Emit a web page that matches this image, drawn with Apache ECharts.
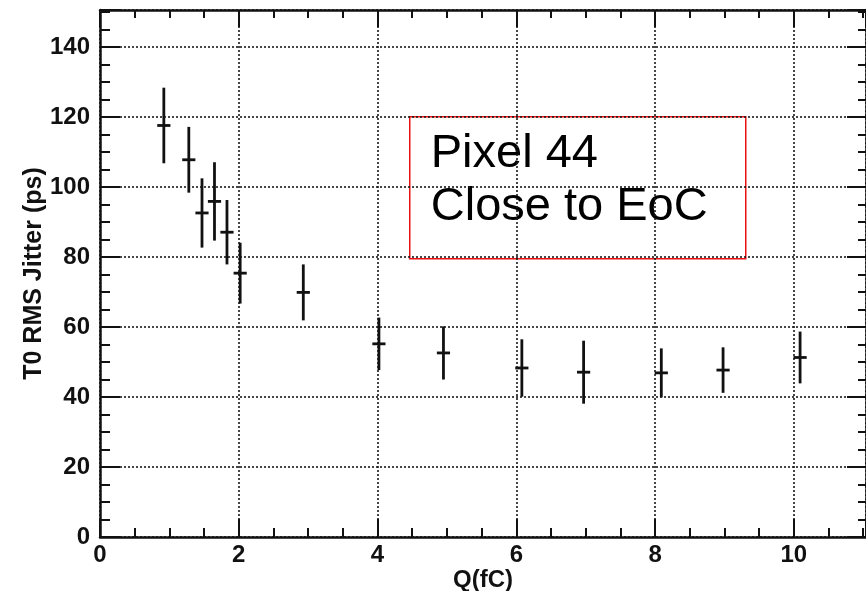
<!DOCTYPE html>
<html>
<head>
<meta charset="utf-8">
<script src="https://cdn.jsdelivr.net/npm/echarts@6/dist/echarts.min.js"></script>
<style>
  html, body { margin: 0; padding: 0; background: #fff; }
  #chart { width: 866px; height: 591px; }
</style>
</head>
<body>
<div id="chart"></div>
<script>
  // 数据
  const qValues = [0.92, 1.28, 1.47, 1.65, 1.83, 2.02, 2.93, 4.02, 4.95, 6.08, 6.97, 8.09, 8.98, 10.09]
  const jitter = [117.6, 107.8, 92.6, 95.9, 87.1, 75.4, 69.9, 55.2, 52.6, 48.3, 47.1, 46.9, 47.7, 51.3]
  const jitterErr = [10.8, 9.4, 9.9, 11.2, 9.2, 8.7, 8.0, 7.5, 7.6, 8.2, 9.0, 7.0, 6.5, 7.4]
  const qErr = 0.095
  const xTitle = 'Q(fC)'
  const yTitle = 'T0 RMS Jitter (ps)'
  const noteLines = ['Pixel 44', 'Close to EoC']

  const FONT = "'Liberation Sans', Arial, Helvetica, sans-serif"
  const INK = '#111'
  const X_MAX = 11.04
  const Y_MAX = 150.6

  const chart = echarts.init(document.getElementById('chart'))

  const points = qValues.map((q, i) => [q, jitter[i], jitterErr[i]])

  const labelFmt = step => v => (Math.abs(v / step - Math.round(v / step)) < 1e-6 ? String(Math.round(v)) : '')

  // 坐标轴工厂: major / minor ticks on each side, ROOT style (inside)
  const xAx = (pos, interval, len, extra) => Object.assign({
    type: 'value', position: pos, min: 0, max: X_MAX, interval: interval,
    axisLine: { show: false, onZero: false },
    axisTick: { show: true, inside: true, length: len, lineStyle: { color: INK, width: 2 } },
    axisLabel: { show: false },
    splitLine: { show: false }
  }, extra || {})

  const yAx = (pos, interval, len, extra) => Object.assign({
    type: 'value', position: pos, min: 0, max: Y_MAX, interval: interval,
    axisLine: { show: false, onZero: false },
    axisTick: { show: true, inside: true, length: len, lineStyle: { color: INK, width: 2 } },
    axisLabel: { show: false },
    splitLine: { show: false }
  }, extra || {})

  const gridLine = { show: true, lineStyle: { color: '#1a1a1a', width: 1.6, type: [2, 2] } }
  const frameLine = { show: true, onZero: false, lineStyle: { color: INK, width: 2.5 } }

  const option = {
    backgroundColor: '#fff',
    animation: false,
    grid: { left: 100, right: 0, top: 10, bottom: 54, containLabel: false, outerBoundsMode: 'none' },
    xAxis: [
      xAx('bottom', 2, 18, {
        axisLine: frameLine,
        splitLine: gridLine,
        axisLabel: {
          show: true, margin: 6, formatter: labelFmt(2),
          fontFamily: FONT, fontSize: 24, fontWeight: 'bold', color: INK
        },
        name: xTitle, nameLocation: 'middle', nameGap: 31, nameMoveOverlap: false,
        nameTextStyle: { fontFamily: FONT, fontSize: 24, fontWeight: 'bold', color: INK }
      }),
      xAx('bottom', 0.5, 9),
      xAx('top', 2, 17, { axisLine: frameLine }),
      xAx('top', 0.5, 8)
    ],
    yAxis: [
      yAx('left', 20, 20, {
        axisLine: frameLine,
        splitLine: gridLine,
        axisLabel: {
          show: true, margin: 10, formatter: labelFmt(20),
          fontFamily: FONT, fontSize: 24, fontWeight: 'bold', color: INK
        },
        name: yTitle, nameLocation: 'middle', nameGap: 53, nameRotate: 90, nameMoveOverlap: false,
        nameTextStyle: { fontFamily: FONT, fontSize: 25, fontWeight: 'bold', color: INK }
      }),
      yAx('left', 5, 10),
      yAx('right', 20, 19, { axisLine: frameLine }),
      yAx('right', 5, 8)
    ],
    series: [
      {
        type: 'custom',
        xAxisIndex: 0,
        yAxisIndex: 0,
        data: points,
        encode: { x: 0, y: 1 },
        renderItem: (params, api) => {
          const x = api.value(0)
          const y = api.value(1)
          const e = api.value(2)
          const top = api.coord([x, y + e])
          const bot = api.coord([x, y - e])
          const l = api.coord([x - qErr, y])
          const r = api.coord([x + qErr, y])
          const style = { stroke: INK, lineWidth: 2.8 }
          return {
            type: 'group',
            children: [
              { type: 'line', shape: { x1: top[0], y1: top[1], x2: bot[0], y2: bot[1] }, style: style },
              { type: 'line', shape: { x1: l[0], y1: l[1], x2: r[0], y2: r[1] }, style: style }
            ]
          }
        }
      }
    ],
    graphic: [
      {
        type: 'group',
        left: 409,
        top: 116,
        children: [
          {
            type: 'rect',
            shape: { x: 0, y: 0, width: 336, height: 142 },
            style: { fill: '#fff', stroke: '#ee1111', lineWidth: 1.5 }
          },
          {
            type: 'text',
            x: 21,
            y: 11,
            style: {
              text: noteLines.join('\n'),
              fontFamily: FONT, fontSize: 47, lineHeight: 53,
              fill: '#000', align: 'left', verticalAlign: 'top'
            }
          }
        ]
      }
    ]
  }

  chart.setOption(option)
</script>
</body>
</html>
